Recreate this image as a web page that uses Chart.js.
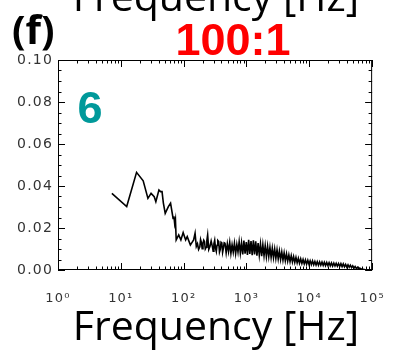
<!DOCTYPE html>
<html>
<head>
<meta charset="utf-8">
<script src="https://cdn.jsdelivr.net/npm/chart.js@4.4.1/dist/chart.umd.min.js"></script>
<style>
  html, body { margin: 0; padding: 0; background: #fff; }
  canvas { display: block; }
</style>
</head>
<body>
<canvas id="spectrumChart" width="404" height="361"></canvas>
<script>
// Power spectrum, panel (f) 100:1, case 6
const freqs = [
    7.2, 12.4, 17.8, 22.7, 27.0, 30.3, 34.0, 36.1, 40.4, 42.9,
    45.3, 47.5, 50.9, 57.1, 61.9, 67.9, 70, 72, 74, 76.1,
    83.5, 90.4, 98.2, 107.6, 114, 128, 137, 144, 152, 159,
    166, 173, 181, 186, 192, 197, 203, 209, 215, 221,
    228, 234, 241, 251, 262, 274, 287, 295, 303, 312,
    322, 331, 340, 350, 361, 372, 383, 394, 405, 417,
    430, 442,
    455, 475, 496, 518, 541, 565, 590, 616, 643, 672,
    702, 733, 765, 799, 835, 872, 910, 950, 993, 1037,
    1083, 1131, 1181, 1233, 1288, 1345, 1404, 1467, 1532, 1600,
    1671, 1745, 1822, 1903, 1987, 2075, 2167, 2263, 2363, 2468,
    2577, 2692, 2811, 2935, 3065, 3201, 3343, 3491, 3646, 3808,
    3976, 4152, 4336, 4529, 4729, 4939, 5158, 5386, 5625, 5874,
    6134, 6406, 6690, 6986, 7296, 7619, 7956, 8309, 8677, 9061,
    9463, 9882, 10320, 10777, 11255, 11753, 12274, 12818, 13386, 13979,
    14598, 15245, 15920, 16626, 17362, 18131, 18935, 19774, 20650, 21564,
    22520, 23517, 24559, 25647, 26783, 27970, 29209, 30503, 31855, 33266,
    34740, 36279, 37886, 39565, 41318, 43148, 45060, 47056, 49141, 51318,
    53592, 55966, 58445, 61035, 63739, 66563, 69512, 72591, 75807
];
const power = [
    0.0365, 0.0302, 0.0465, 0.0425, 0.0341, 0.0365, 0.0349, 0.0325, 0.0381, 0.0373,
    0.0373, 0.0320, 0.0270, 0.0302, 0.0318, 0.0246, 0.0255, 0.0220, 0.0240, 0.0143,
    0.0167, 0.0143, 0.0178, 0.0143, 0.0159, 0.0119, 0.0133, 0.0143, 0.0175, 0.0112,
    0.0125, 0.0098, 0.0110, 0.0145, 0.0130, 0.0102, 0.0127, 0.0142, 0.0135, 0.0100,
    0.0108, 0.0140, 0.0167, 0.0098, 0.0112, 0.0138, 0.0110, 0.0090, 0.0125, 0.0142,
    0.0103, 0.0088, 0.0118, 0.0140, 0.0135, 0.0085, 0.0098, 0.0132, 0.0128, 0.0084,
    0.0105, 0.0130,
    0.0128, 0.0082, 0.0125, 0.0088, 0.0132, 0.0079, 0.0120, 0.0085, 0.0128, 0.0078,
    0.0122, 0.0086, 0.0135, 0.0080, 0.0129, 0.0074, 0.0140, 0.0078, 0.0133, 0.0072,
    0.0144, 0.0076, 0.0138, 0.0070, 0.0141, 0.0074, 0.0136, 0.0068, 0.0128, 0.0071,
    0.0124, 0.0066, 0.0121, 0.0068, 0.0116, 0.0063, 0.0113, 0.0064, 0.0108, 0.0060,
    0.0104, 0.0058, 0.0100, 0.0055, 0.0096, 0.0053, 0.0091, 0.0050, 0.0086, 0.0047,
    0.0082, 0.0044, 0.0077, 0.0042, 0.0072, 0.0040, 0.0068, 0.0038, 0.0064, 0.0036,
    0.0060, 0.0034, 0.0056, 0.0032, 0.0053, 0.0031, 0.0050, 0.0029, 0.0048, 0.0028,
    0.0046, 0.0027, 0.0044, 0.0026, 0.0043, 0.0025, 0.0041, 0.0024, 0.0040, 0.0023,
    0.0039, 0.0023, 0.0038, 0.0022, 0.0037, 0.0021, 0.0036, 0.0021, 0.0035, 0.0020,
    0.0034, 0.0019, 0.0033, 0.0019, 0.0032, 0.0018, 0.0031, 0.0017, 0.0030, 0.0016,
    0.0029, 0.0015, 0.0027, 0.0014, 0.0025, 0.0013, 0.0023, 0.0011, 0.0020, 0.0009,
    0.0017, 0.0007, 0.0013, 0.0005, 0.0009, 0.0003, 0.0006, 0.0002, 0.0003
];

const xTickValues = [1, 10, 100, 1000, 10000, 100000];
const xTickLabels = ["10\u2070", "10\u00b9", "10\u00b2", "10\u00b3", "10\u2074", "10\u2075"];
const xMinorFactors = [2, 3, 4, 5, 6, 7, 8, 9];
const yTickValues = [0, 0.02, 0.04, 0.06, 0.08, 0.1];
const yTickLabels = ["0.00", "0.02", "0.04", "0.06", "0.08", "0.10"];
const yMinorStep = 0.005;

// wide spacing of the tick labels, like the original plot
const spacingPlugin = {
    id: "spacing",
    beforeDraw(chart) {
        chart.ctx.letterSpacing = "1.2px";
    },
    afterDatasetsDraw(chart) {
        chart.ctx.letterSpacing = "0px";
    },
};

// Frame, inward ticks on all four sides, and the panel texts
const framePlugin = {
    id: "frame",
    afterDraw(chart) {
        const ctx = chart.ctx;
        const area = chart.chartArea;
        const xs = chart.scales.x;
        const ys = chart.scales.y;

        ctx.save();
        ctx.letterSpacing = "0px";
        ctx.strokeStyle = "#000";
        ctx.lineWidth = 1;
        ctx.strokeRect(area.left + 0.5, area.top + 0.5, area.right - area.left - 1, area.bottom - area.top - 1);

        ctx.beginPath();
        // x ticks (bottom + top)
        xTickValues.forEach(function (dec, i) {
            const px = Math.round(xs.getPixelForValue(dec)) + 0.5;
            ctx.moveTo(px, area.bottom);
            ctx.lineTo(px, area.bottom - 7);
            ctx.moveTo(px, area.top);
            ctx.lineTo(px, area.top + 7);
            if (i < xTickValues.length - 1) {
                xMinorFactors.forEach(function (m) {
                    const mx = Math.round(xs.getPixelForValue(dec * m)) + 0.5;
                    ctx.moveTo(mx, area.bottom);
                    ctx.lineTo(mx, area.bottom - 3.5);
                    ctx.moveTo(mx, area.top);
                    ctx.lineTo(mx, area.top + 3.5);
                });
            }
        });
        // y ticks (left + right)
        for (let v = 0; v <= 0.1 + 1e-9; v += yMinorStep) {
            const major = Math.abs(v / 0.02 - Math.round(v / 0.02)) < 1e-6;
            const len = major ? 7 : 3.5;
            const py = Math.round(ys.getPixelForValue(v)) + 0.5;
            ctx.moveTo(area.left, py);
            ctx.lineTo(area.left + len, py);
            ctx.moveTo(area.right, py);
            ctx.lineTo(area.right - len, py);
        }
        ctx.stroke();

        // panel texts
        ctx.fillStyle = "#000";
        ctx.textAlign = "center";
        ctx.textBaseline = "alphabetic";
        ctx.font = "41px 'Open Sans'";
        ctx.fillText("Frequency [Hz]", 216, 11);
        ctx.fillText("Frequency [Hz]", 216, 340);

        ctx.textAlign = "left";
        ctx.font = "bold 40px 'Open Sans'";
        ctx.fillText("(f)", 12, 44);

        ctx.textAlign = "center";
        ctx.fillStyle = "#ff0000";
        ctx.font = "bold 45px 'Liberation Sans'";
        ctx.fillText("100:1", 233, 55);

        ctx.fillStyle = "#00999a";
        ctx.font = "bold 45px 'Liberation Sans'";
        ctx.fillText("6", 90, 123);
        ctx.restore();
    },
};

const chartCtx = document.getElementById("spectrumChart").getContext("2d");
new Chart(chartCtx, {
    type: "scatter",
    data: {
        datasets: [
            {
                data: freqs.map((f, i) => ({ x: f, y: power[i] })),
                showLine: true,
                borderColor: "#000",
                borderWidth: 1.6,
                pointRadius: 0,
                tension: 0,
            },
        ],
    },
    options: {
        responsive: false,
        animation: false,
        layout: { padding: { top: 60, right: 13, left: 0, bottom: 0 } },
        plugins: {
            legend: { display: false },
            tooltip: { enabled: false },
        },
        scales: {
            x: {
                type: "logarithmic",
                min: 1,
                max: 100000,
                grid: { display: false, drawTicks: false },
                border: { display: false },
                afterBuildTicks: function (scale) {
                    scale.ticks = xTickValues.map((v) => ({ value: v }));
                },
                afterFit: function (scale) {
                    scale.height = 91;
                },
                ticks: {
                    autoSkip: false,
                    maxRotation: 0,
                    padding: 21,
                    color: "#333",
                    font: { family: "'DejaVu Sans'", size: 13 },
                    callback: (v, i) => xTickLabels[i],
                },
            },
            y: {
                min: 0,
                max: 0.1,
                grid: { display: false, drawTicks: false },
                border: { display: false },
                afterBuildTicks: function (scale) {
                    scale.ticks = yTickValues.map((v) => ({ value: v }));
                },
                afterFit: function (scale) {
                    scale.width = 58;
                },
                ticks: {
                    padding: 5,
                    color: "#333",
                    font: { family: "'DejaVu Sans'", size: 14 },
                    callback: (v, i) => yTickLabels[i],
                },
            },
        },
    },
    plugins: [spacingPlugin, framePlugin],
});
</script>
</body>
</html>
